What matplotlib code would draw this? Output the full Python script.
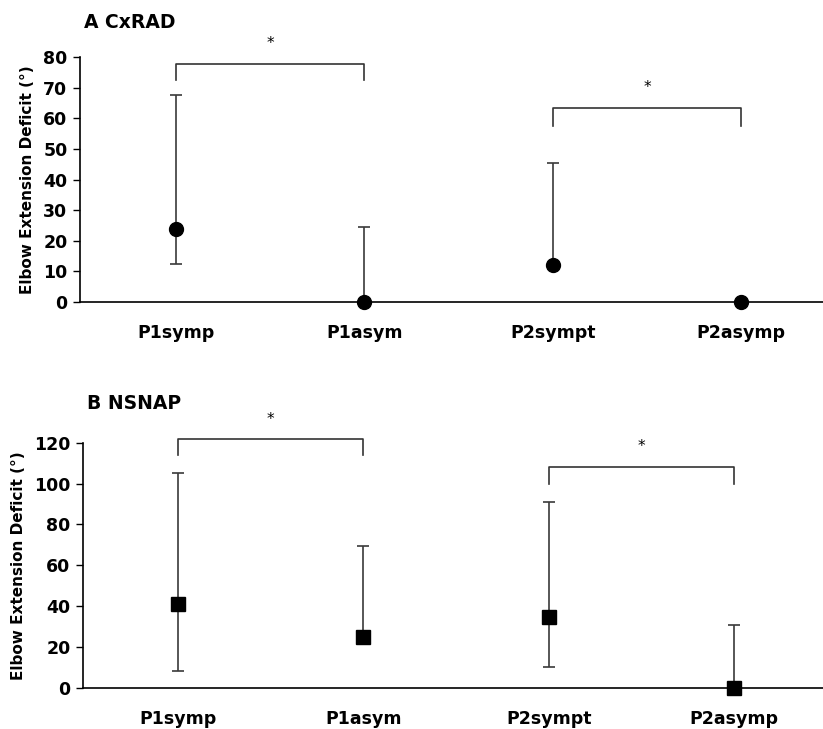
import numpy as np
import matplotlib.pyplot as plt

# categories
labels = ["P1symp", "P1asym", "P2sympt", "P2asymp"]

# panel A: CxRAD
a_mid = [24, 0, 12, 0]
a_low = [12.5, 0, 12, 0]
a_high = [67.5, 24.5, 45.3, 0]

# panel B: NSNAP
b_mid = [40.8, 25, 34.5, 0]
b_low = [8.3, 25, 10.3, 0]
b_high = [105.3, 69.5, 91.1, 30.7]

# significance brackets: (from, to, bar height, leg bottom, star height)
a_brackets = [(0, 1, 77.6, 72.6, 84.5), (2, 3, 63.3, 57.5, 70.2)]
b_brackets = [(0, 1, 121.8, 114, 131.5), (2, 3, 108.2, 100, 118)]

fig = plt.figure(figsize=(8.23, 7.29), dpi=100)
axA = fig.add_axes([0.0972, 0.5857, 0.9028, 0.3361])
axB = fig.add_axes([0.1009, 0.0567, 0.8991, 0.3360])

def draw_panel(ax, mid, low, high, marker, ms, ymax, step, xlim, brackets, title, title_y):
    x = np.arange(len(labels))
    mid = np.array(mid)
    yerr = [mid - np.array(low), np.array(high) - mid]
    ax.errorbar(x, mid, yerr=yerr, fmt='none', ecolor='#3a3a3a', elinewidth=1.2,
                capsize=4, capthick=1.2, zorder=2)
    ax.plot(x, mid, linestyle='none', marker=marker, ms=ms, color='black', zorder=3, clip_on=False)
    ax.set_xlim(*xlim)
    ax.set_ylim(0, ymax)
    ax.set_yticks(np.arange(0, ymax + 1, step))
    ax.set_xticks(x)
    ax.set_xticklabels(labels)
    ax.tick_params(axis='x', length=0, pad=16)
    ax.tick_params(axis='y', length=5, width=1, direction='out', pad=4)
    for lab in ax.get_xticklabels() + ax.get_yticklabels():
        lab.set_fontweight('bold')
        lab.set_fontsize(12.5)
    for s in ['top', 'right']:
        ax.spines[s].set_visible(False)
    for s in ['left', 'bottom']:
        ax.spines[s].set_linewidth(1.2)
    ax.set_ylabel("Elbow Extension Deficit (°)", fontsize=11, fontweight='bold', labelpad=6)
    for i, j, top, leg, star in brackets:
        ax.plot([i, i, j, j], [leg, top, top, leg], color='#333333', lw=1.2, clip_on=False)
        ax.text((i + j) / 2, star, "*", ha='center', va='center', fontsize=11, clip_on=False)
    ax.text(0.005, title_y, title, transform=ax.transAxes, fontsize=13.5, fontweight='bold',
            ha='left', va='center')

draw_panel(axA, a_mid, a_low, a_high, 'o', 10, 80, 10, (-0.51, 3.435), a_brackets, "A CxRAD", 1.14)
draw_panel(axB, b_mid, b_low, b_high, 's', 9.5, 120, 20, (-0.513, 3.48), b_brackets, "B NSNAP", 1.16)

fig.savefig("out.png", dpi=100)
